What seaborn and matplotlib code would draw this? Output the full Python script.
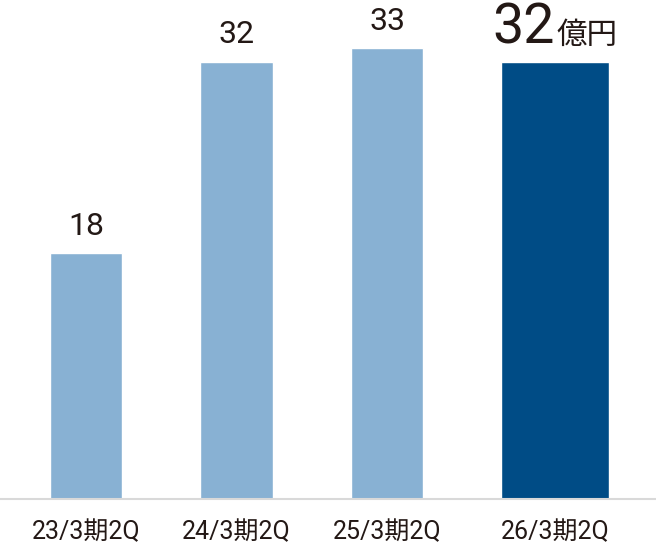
import pandas as pd
import seaborn as sns
import matplotlib.pyplot as plt

# data (億円)
periods = ['23/3期2Q', '24/3期2Q', '25/3期2Q', '26/3期2Q']
values = [18, 32, 33, 32]
unit = '億円'

light_blue = '#88b1d3'
dark_blue = '#004c86'
text_color = '#231815'

df = pd.DataFrame({'period': periods, 'value': values})
df['latest'] = ['past', 'past', 'past', 'latest']

sns.set_style('white')
plt.rcParams['font.family'] = ['Roboto', 'Noto Sans CJK JP', 'DejaVu Sans']

fig = plt.figure(figsize=(6.56, 5.46), dpi=100)
ax = fig.add_axes([0, 0.086, 1, 0.914])

sns.barplot(data=df, x='period', y='value', hue='latest',
            palette={'past': light_blue, 'latest': dark_blue},
            width=0.48, dodge=False, legend=False, saturation=1, ax=ax)

# the latest bar is wider and slightly shifted to the right
last_shift = 0.116
bars = [p for p in ax.patches if p.get_height() > 0]
bars.sort(key=lambda p: p.get_x())
last = bars[-1]
last.set_width(0.718)
last.set_x(len(periods) - 1 + last_shift - 0.718 / 2)

ax.set_xlim(-0.571, 3.787)
ax.set_ylim(0, 36.5)

# value labels
for i, v in enumerate(values[:-1]):
    ax.annotate(str(v), (i, v), xytext=(0, 13), textcoords='offset points',
                ha='center', va='baseline', fontsize=23, color=text_color)
xc = len(periods) - 1 + last_shift
ax.annotate(str(values[-1]), (xc, values[-1]), xytext=(0, 13), textcoords='offset points',
            ha='right', va='baseline', fontsize=40, color=text_color)
ax.annotate(unit, (xc, values[-1]), xytext=(1, 13), textcoords='offset points',
            ha='left', va='baseline', fontsize=22, color=text_color,
            family=['Noto Sans CJK JP', 'DejaVu Sans'])

ax.set_xticks([0, 1, 2, 3 + last_shift])
ax.set_xticklabels(periods, fontsize=18, color=text_color)
ax.tick_params(axis='x', length=0, pad=15)
ax.set_yticks([])
ax.set_xlabel('')
ax.set_ylabel('')

for s in ['top', 'left', 'right']:
    ax.spines[s].set_visible(False)
ax.spines['bottom'].set_color('#d9d9d9')
ax.spines['bottom'].set_linewidth(1.5)

fig.savefig('out.png', dpi=100)
